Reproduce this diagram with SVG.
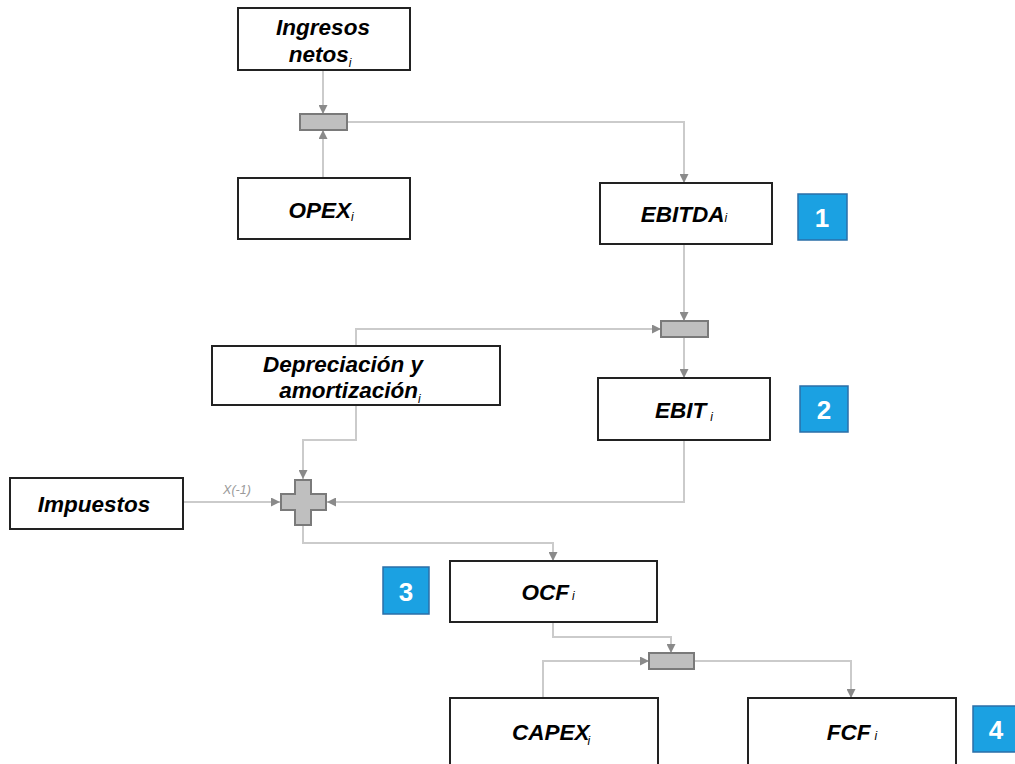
<svg xmlns="http://www.w3.org/2000/svg" width="1015" height="764" viewBox="0 0 1015 764">
<defs>
<marker id="arr" viewBox="0 0 10 10" refX="10" refY="5" markerWidth="9" markerHeight="9" markerUnits="userSpaceOnUse" orient="auto">
<path d="M0,0 L10,5 L0,10 z" fill="#8a8a8a"/>
</marker>
<style>
.box{fill:#fff;stroke:#222;stroke-width:2}
.t{font-family:"Liberation Sans",Arial,sans-serif;font-weight:bold;font-style:italic;font-size:22.5px;fill:#000;text-anchor:middle}
.sub{font-family:"Liberation Sans",Arial,sans-serif;font-weight:normal;font-style:italic;font-size:12px;fill:#000}
.blk{fill:#bfbfbf;stroke:#7a7a7a;stroke-width:2}
.badge{fill:#1ba1e2;stroke:#2b6fa8;stroke-width:1.5}
.bt{font-family:"Liberation Sans",Arial,sans-serif;font-weight:bold;font-size:26px;fill:#fff;text-anchor:middle}
.c{fill:none;stroke:#cbcbcb;stroke-width:2}
.lbl{font-family:"Liberation Sans",Arial,sans-serif;font-style:italic;font-size:12.5px;fill:#9a9a9a;text-anchor:middle}
</style>
</defs>
<rect width="1015" height="764" fill="#fff"/>
<g id="connectors">
<path class="c" d="M323,70 V114" marker-end="url(#arr)"/>
<path class="c" d="M323,178 V130" marker-end="url(#arr)"/>
<path class="c" d="M347,122 H684 V183" marker-end="url(#arr)"/>
<path class="c" d="M684,244 V321" marker-end="url(#arr)"/>
<path class="c" d="M356,346 V329 H661" marker-end="url(#arr)"/>
<path class="c" d="M684,337 V378" marker-end="url(#arr)"/>
<path class="c" d="M356,405 V440 H303 V479" marker-end="url(#arr)"/>
<path class="c" d="M183,502 H280" marker-end="url(#arr)"/>
<path class="c" d="M684,440 V502 H327" marker-end="url(#arr)"/>
<path class="c" d="M303,526 V543 H553 V561" marker-end="url(#arr)"/>
<path class="c" d="M553,622 V637 H671 V653" marker-end="url(#arr)"/>
<path class="c" d="M543,698 V661 H649" marker-end="url(#arr)"/>
<path class="c" d="M694,661 H851 V698" marker-end="url(#arr)"/>
<text class="lbl" x="237" y="494">X(-1)</text>
</g>
<g id="sum1"><rect class="blk" x="300" y="114" width="47" height="16"/></g>
<g id="sum2"><rect class="blk" x="661" y="321" width="47" height="16"/></g>
<g id="sum3"><rect class="blk" x="649" y="653" width="45" height="16"/></g>
<g id="plus"><path class="blk" d="M295,480 H311 V494 H326 V510 H311 V525 H295 V510 H281 V494 H295 Z"/></g>
<g id="ingresos">
<rect class="box" x="238" y="8" width="172" height="62"/>
<text class="t" x="323" y="35">Ingresos</text>
<text class="t" x="320" y="62">netos<tspan class="sub" dy="5">i</tspan></text>
</g>
<g id="opex">
<rect class="box" x="238" y="178" width="172" height="61"/>
<text class="t" x="321" y="218">OPEX<tspan class="sub" dy="3">i</tspan></text>
</g>
<g id="ebitda">
<rect class="box" x="600" y="183" width="172" height="61"/>
<text class="t" x="684" y="222">EBITDA<tspan class="sub">i</tspan></text>
</g>
<g id="badge1"><rect class="badge" x="798" y="194" width="49" height="46"/><text class="bt" x="822" y="227">1</text></g>
<g id="depreciacion">
<rect class="box" x="212" y="346" width="288" height="59"/>
<text class="t" x="343" y="372">Depreciación y</text>
<text class="t" x="350" y="398">amortización<tspan class="sub" dy="5">i</tspan></text>
</g>
<g id="ebit">
<rect class="box" x="598" y="378" width="172" height="62"/>
<text class="t" x="684" y="418">EBIT<tspan class="sub" dy="3" dx="4">i</tspan></text>
</g>
<g id="badge2"><rect class="badge" x="800" y="386" width="48" height="46"/><text class="bt" x="824" y="419">2</text></g>
<g id="impuestos">
<rect class="box" x="10" y="478" width="173" height="51"/>
<text class="t" x="94" y="512">Impuestos</text>
</g>
<g id="ocf">
<rect class="box" x="450" y="561" width="207" height="61"/>
<text class="t" x="548" y="600">OCF<tspan class="sub" dx="3">i</tspan></text>
</g>
<g id="badge3"><rect class="badge" x="383" y="567" width="46" height="47"/><text class="bt" x="406" y="601">3</text></g>
<g id="capex">
<rect class="box" x="450" y="698" width="208" height="70"/>
<text class="t" x="551" y="740">CAPEX<tspan class="sub" dx="-2" dy="5">i</tspan></text>
</g>
<g id="fcf">
<rect class="box" x="748" y="698" width="208" height="70"/>
<text class="t" x="852" y="740">FCF<tspan class="sub" dx="4">i</tspan></text>
</g>
<g id="badge4"><rect class="badge" x="973" y="706" width="46" height="46"/><text class="bt" x="996" y="739">4</text></g>
</svg>
